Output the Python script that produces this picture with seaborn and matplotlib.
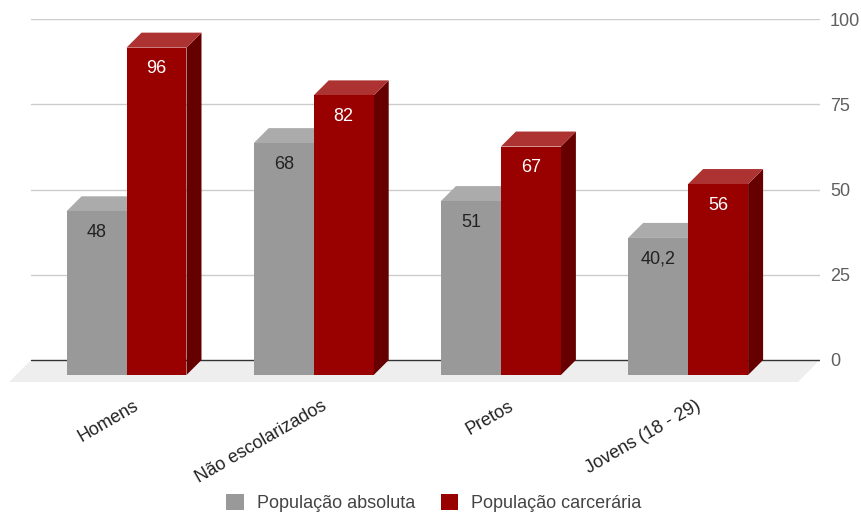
import matplotlib
matplotlib.use("Agg")
import matplotlib.pyplot as plt
from matplotlib.patches import Polygon, Patch
from matplotlib.transforms import ScaledTranslation
import pandas as pd
import seaborn as sns

# ---- data -------------------------------------------------------------
categories = ["Homens", "Não escolarizados", "Pretos", "Jovens (18 - 29)"]
series = ["População absoluta", "População carcerária"]
absoluta = [48, 68, 51, 40.2]
carceraria = [96, 82, 67, 56]
y_ticks = [0, 25, 50, 75, 100]

df = pd.DataFrame({
    "categoria": categories * 2,
    "serie": [series[0]] * len(categories) + [series[1]] * len(categories),
    "valor": absoluta + carceraria,
})

# ---- styling ------------------------------------------------------------
front_col = {series[0]: "#999999", series[1]: "#990000"}
top_col = {series[0]: "#ababab", series[1]: "#ad3333"}
side_col = {series[0]: "#7a7a7a", series[1]: "#660000"}
label_col = {series[0]: "#222222", series[1]: "#ffffff"}

W, H, DPI = 861, 513, 100
sns.set_theme(style="white")
plt.rcParams["font.family"] = ["Liberation Sans", "DejaVu Sans"]
FS = 13

fig = plt.figure(figsize=(W / DPI, H / DPI), dpi=DPI)
# plot box in pixels (left, right, top, bottom)
L, R, T, B = 9, 820, 19, 382
ax = fig.add_axes([L / W, 1 - B / H, (R - L) / W, (B - T) / H])

sns.barplot(data=df, x="categoria", y="valor", hue="serie",
            palette=front_col, width=0.641, saturation=1,
            errorbar=None, linewidth=0, legend=False, ax=ax)
bars = list(ax.patches)

# scale: 3.41 px per unit on y, 187.2 px per category on x
px_y = 3.41
px_x = 187.2
zero_px = 360
first_center_px = 141.5
ax.set_ylim(-(B - zero_px) / px_y, 100)
ax.set_xlim((L - first_center_px) / px_x, (R - first_center_px) / px_x)

depth = 15          # 3D depth of the bars, pixels
floor_depth = 22    # depth of the floor slab, pixels
ddx = depth / px_x
ddy = depth / px_y

# floor slab
fx = floor_depth / (R - L)
fy = floor_depth / (B - T)
ax.add_patch(Polygon([(fx, fy), (1, fy), (1 - fx, 0), (0, 0)],
                     closed=True, transform=ax.transAxes,
                     facecolor="#eeeeee", edgecolor="none", zorder=0.5))

# gridlines on the back wall
for t in y_ticks:
    ax.axhline(t, xmin=fx, xmax=1, color="#333333" if t == 0 else "#cccccc",
               lw=1, zorder=1)

# turn the flat bars into boxes
n = len(categories)
for i, p in enumerate(bars):
    s = series[i // n]
    z = 3 if s == series[0] else 4
    x0, w, h = p.get_x(), p.get_width(), p.get_height()
    ax.add_patch(Polygon([(x0 + w - ddx, -ddy), (x0 + w, 0), (x0 + w, h),
                          (x0 + w - ddx, h - ddy)], closed=True,
                         facecolor=side_col[s], edgecolor="none", zorder=z))
    ax.add_patch(Polygon([(x0 - ddx, h - ddy), (x0 + w - ddx, h - ddy),
                          (x0 + w, h), (x0, h)], closed=True,
                         facecolor=top_col[s], edgecolor="none", zorder=z))
    p.set_x(x0 - ddx)
    p.set_y(-ddy)
    p.set_zorder(z + 0.1)
    txt = f"{h:g}".replace(".", ",")
    ax.annotate(txt, (x0 + w / 2 - ddx, h - ddy), xytext=(0, -21),
                textcoords="offset pixels", ha="center", va="center",
                fontsize=FS, color=label_col[s], zorder=6)

# axes decorations
for sp in ax.spines.values():
    sp.set_visible(False)
ax.set_xlabel("")
ax.set_ylabel("")
ax.yaxis.tick_right()
ax.set_yticks(y_ticks)
ax.set_yticklabels([str(t) for t in y_ticks])
ax.tick_params(axis="y", length=0, pad=7.2, labelsize=FS, labelcolor="#5f5f5f")
ax.set_xticks(range(n))
ax.set_xticklabels(categories, rotation=30, ha="right", rotation_mode="anchor")
ax.tick_params(axis="x", length=0, pad=11, labelsize=FS, labelcolor="#222222")
shift = ScaledTranslation(-8 / DPI, 0, fig.dpi_scale_trans)
for lab in ax.get_xticklabels():
    lab.set_transform(lab.get_transform() + shift)

handles = [Patch(facecolor=front_col[s], edgecolor="none", label=s) for s in series]
leg = fig.legend(handles=handles, loc="center", bbox_to_anchor=(434 / W, 1 - 503 / H),
                 ncol=2, frameon=False, fontsize=FS, handlelength=0.95,
                 handleheight=0.95, handletextpad=0.75, columnspacing=1.4)
for t in leg.get_texts():
    t.set_color("#444444")

fig.savefig("out.png", dpi=DPI, facecolor="white")
